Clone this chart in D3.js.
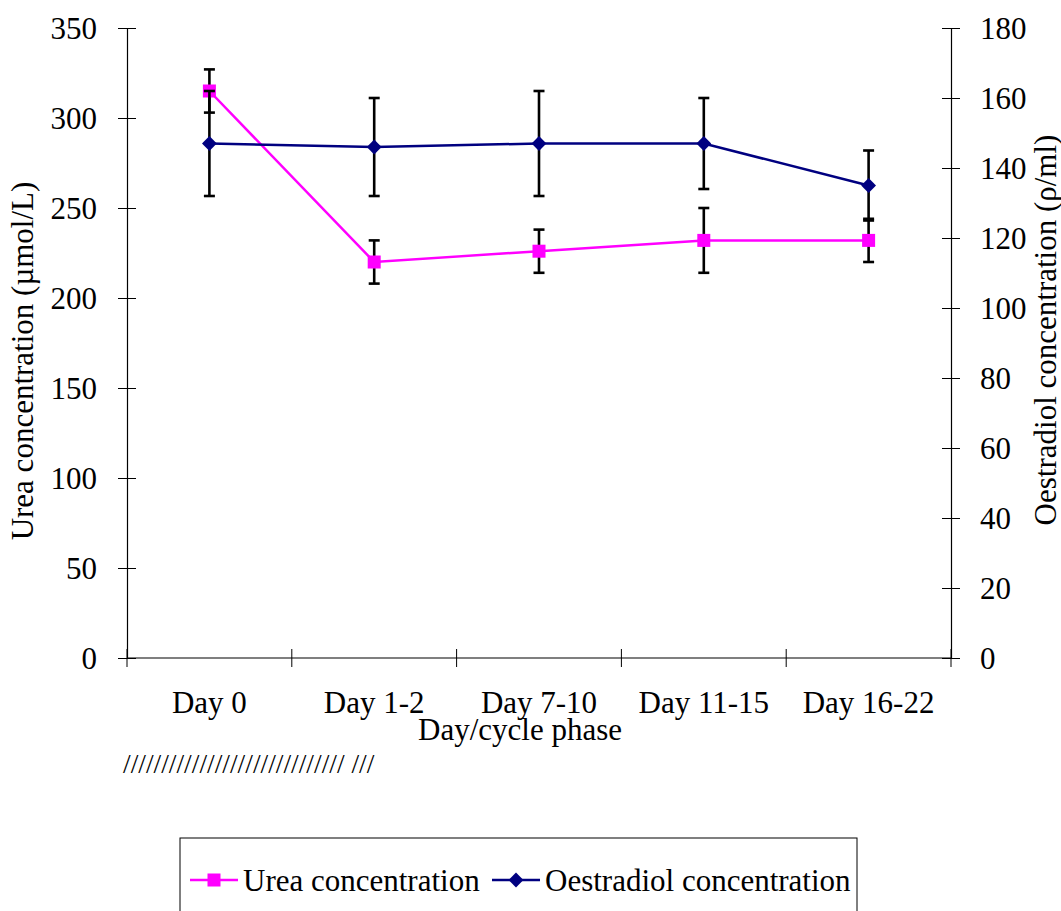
<!DOCTYPE html>
<html>
<head>
<meta charset="utf-8">
<script src="https://cdn.jsdelivr.net/npm/d3@7"></script>
<style>
body { margin: 0; background: #fff; }
text { font-family: "Liberation Serif", "Times New Roman", serif; fill: #000; }
</style>
</head>
<body>
<div id="chart"></div>
<script>
const categories = ["Day 0", "Day 1-2", "Day 7-10", "Day 11-15", "Day 16-22"];
const ureaValues = [315, 220, 226, 232, 232];
const ureaErrors = [12, 12, 12, 18, 12];
const oestradiolValues = [147, 146, 147, 147, 135];
const oestradiolErrors = [15, 14, 15, 13, 10];
const leftTicks = [0, 50, 100, 150, 200, 250, 300, 350];
const rightTicks = [0, 20, 40, 60, 80, 100, 120, 140, 160, 180];

const svgWidth = 1061, svgHeight = 911;
const plot = { left: 127, right: 951, top: 28, bottom: 658 };
const fontSize = 31;

const svg = d3.select("#chart").append("svg")
  .attr("width", svgWidth)
  .attr("height", svgHeight);

const x = d3.scaleBand().domain(categories).range([plot.left, plot.right]).padding(0);
const cx = d => x(d) + x.bandwidth() / 2;
const yLeft = d3.scaleLinear().domain([0, 350]).range([plot.bottom, plot.top]);
const yRight = d3.scaleLinear().domain([0, 180]).range([plot.bottom, plot.top]);

// axes
const leftAxis = d3.axisLeft(yLeft).tickValues(leftTicks).tickSizeInner(9).tickSizeOuter(0).tickPadding(21);
const gl = svg.append("g").attr("transform", `translate(${plot.left},0)`).call(leftAxis);
gl.selectAll(".tick line").attr("x2", -9).attr("x1", 9);

const rightAxis = d3.axisRight(yRight).tickValues(rightTicks).tickSizeInner(9).tickSizeOuter(0).tickPadding(20);
const gr = svg.append("g").attr("transform", `translate(${plot.right},0)`).call(rightAxis);
gr.selectAll(".tick line").attr("x1", -9).attr("x2", 9);

[gl, gr].forEach(g => {
  g.select(".domain").attr("stroke", "#000").attr("stroke-width", 1.2);
  g.selectAll(".tick line").attr("stroke", "#000").attr("stroke-width", 1);
  g.selectAll(".tick text").attr("font-size", fontSize).attr("dy", "0.33em")
    .style("font-family", "'Liberation Serif', 'Times New Roman', serif");
});

// x axis, ticks sit on the category boundaries
const gx = svg.append("g");
gx.append("line")
  .attr("x1", plot.left).attr("x2", plot.right)
  .attr("y1", plot.bottom).attr("y2", plot.bottom)
  .attr("stroke", "#000").attr("stroke-width", 1.2);
const boundaries = categories.map(d => x(d)).concat([x(categories[categories.length - 1]) + x.bandwidth()]);
gx.selectAll("line.tk").data(boundaries).enter().append("line")
  .attr("class", "tk")
  .attr("x1", d => d).attr("x2", d => d)
  .attr("y1", plot.bottom - 9).attr("y2", plot.bottom + 9)
  .attr("stroke", "#000").attr("stroke-width", 1);
gx.selectAll("text").data(categories).enter().append("text")
  .attr("x", d => cx(d)).attr("y", 713)
  .attr("text-anchor", "middle").attr("font-size", fontSize)
  .text(d => d);

// axis titles
svg.append("text")
  .attr("transform", `translate(33, ${(plot.top + plot.bottom) / 2 + 18}) rotate(-90)`)
  .attr("text-anchor", "middle").attr("font-size", fontSize)
  .text("Urea concentration (\u00b5mol/L)");

svg.append("text")
  .attr("transform", `translate(1056, 330) rotate(-90)`)
  .attr("text-anchor", "middle").attr("font-size", fontSize)
  .text("Oestradiol concentration (\u03c1/ml)");

svg.append("text")
  .attr("x", 520).attr("y", 740)
  .attr("text-anchor", "middle").attr("font-size", fontSize)
  .text("Day/cycle phase");

svg.append("text")
  .attr("x", 123).attr("y", 773)
  .attr("font-size", 27.5)
  .text("///////////////////////////// ///");

// error bars
function drawErrors(values, errors, scale) {
  const g = svg.append("g").attr("stroke", "#000").attr("stroke-width", 2.6);
  categories.forEach((c, i) => {
    const xc = cx(c);
    const yt = scale(values[i] + errors[i]);
    const yb = scale(values[i] - errors[i]);
    g.append("line").attr("x1", xc).attr("x2", xc).attr("y1", yt).attr("y2", yb);
    g.append("line").attr("x1", xc - 5.5).attr("x2", xc + 5.5).attr("y1", yt).attr("y2", yt);
    g.append("line").attr("x1", xc - 5.5).attr("x2", xc + 5.5).attr("y1", yb).attr("y2", yb);
  });
}

const line = scale => d3.line().x((d, i) => cx(categories[i])).y(d => scale(d));

// urea series
drawErrors(ureaValues, ureaErrors, yLeft);
svg.append("path").datum(ureaValues)
  .attr("d", line(yLeft))
  .attr("fill", "none").attr("stroke", "#ff00ff").attr("stroke-width", 2.5);
svg.selectAll("rect.urea").data(ureaValues).enter().append("rect")
  .attr("class", "urea")
  .attr("x", (d, i) => cx(categories[i]) - 6.5)
  .attr("y", d => yLeft(d) - 6.5)
  .attr("width", 13).attr("height", 13)
  .attr("fill", "#ff00ff");

// oestradiol series
drawErrors(oestradiolValues, oestradiolErrors, yRight);
svg.append("path").datum(oestradiolValues)
  .attr("d", line(yRight))
  .attr("fill", "none").attr("stroke", "#000080").attr("stroke-width", 2.5);
svg.selectAll("path.oes").data(oestradiolValues).enter().append("path")
  .attr("class", "oes")
  .attr("transform", (d, i) => `translate(${cx(categories[i])},${yRight(d)}) rotate(45)`)
  .attr("d", d3.symbol().type(d3.symbolSquare).size(110))
  .attr("fill", "#000080");

// legend
const lg = svg.append("g");
lg.append("rect")
  .attr("x", 180).attr("y", 838)
  .attr("width", 677).attr("height", 90)
  .attr("fill", "#fff").attr("stroke", "#000").attr("stroke-width", 1);
const legendItems = [
  { label: "Urea concentration", color: "#ff00ff", x0: 190, marker: "square" },
  { label: "Oestradiol concentration", color: "#000080", x0: 492, marker: "diamond" }
];
legendItems.forEach(it => {
  lg.append("line")
    .attr("x1", it.x0).attr("x2", it.x0 + 48)
    .attr("y1", 880).attr("y2", 880)
    .attr("stroke", it.color).attr("stroke-width", 2.5);
  if (it.marker === "square") {
    lg.append("rect").attr("x", it.x0 + 24 - 6.5).attr("y", 880 - 6.5)
      .attr("width", 13).attr("height", 13).attr("fill", it.color);
  } else {
    lg.append("path")
      .attr("transform", `translate(${it.x0 + 24},880) rotate(45)`)
      .attr("d", d3.symbol().type(d3.symbolSquare).size(110))
      .attr("fill", it.color);
  }
  lg.append("text")
    .attr("x", it.x0 + 53).attr("y", 891)
    .attr("font-size", fontSize)
    .text(it.label);
});
</script>
</body>
</html>
